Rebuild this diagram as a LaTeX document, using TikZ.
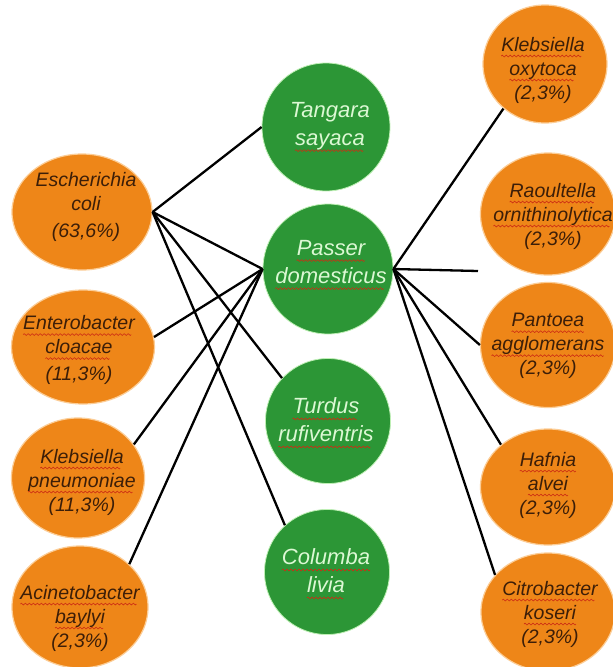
\documentclass[tikz,border=0pt]{standalone}
\usepackage{fontspec}
\setmainfont{Liberation Sans}
\usetikzlibrary{shapes.geometric}
\definecolor{orgfill}{RGB}{238,134,24}
\definecolor{orgedge}{RGB}{252,205,150}
\definecolor{grnfill}{RGB}{44,150,54}
\definecolor{grnedge}{RGB}{190,240,180}
\definecolor{orgtext}{RGB}{60,30,8}
\definecolor{grntext}{RGB}{220,248,212}
\definecolor{wavered}{RGB}{205,45,20}
\newsavebox\wavebox
\newcommand\wavepiece{\tikz[baseline=0pt]{\path[use as bounding box] (0pt,-1pt) rectangle (4pt,1pt);\draw[wavered,line width=0.6pt] (0pt,0pt) sin (1pt,0.9pt) cos (2pt,0pt) sin (3pt,-0.9pt) cos (4pt,0pt);}}
\newcommand\rwave[1]{\sbox\wavebox{#1}\rlap{\usebox\wavebox}\raisebox{-5pt}{\hbox to \wd\wavebox{\leaders\hbox{\wavepiece}\hfill}}}
\begin{document}
\begin{tikzpicture}[x=1pt,y=-1pt,
  bact/.style={ellipse, fill=orgfill, draw=orgedge, line width=1.2pt, inner sep=0pt},
  bird/.style={circle, fill=grnfill, draw=grnedge, line width=0.8pt, inner sep=0pt},
  btext/.style={align=center, font=\fontsize{19.5}{24}\selectfont\itshape, text=orgtext, inner sep=0pt},
  gtext/.style={align=center, font=\fontsize{22}{28}\selectfont\itshape, text=grntext, inner sep=0pt},
  link/.style={line width=2.3pt, black}]
\useasboundingbox (0,0) rectangle (613,667);
\fill[white] (0,0) rectangle (613,667);
% bacteria (left)
\node[bact, minimum width=140pt, minimum height=116pt] (ecoli) at (82,212) {};
\node[bact, minimum width=143pt, minimum height=114pt] (entero) at (83,347) {};
\node[bact, minimum width=133pt, minimum height=120pt] (kpneu) at (78,478) {};
\node[bact, minimum width=136pt, minimum height=122pt] (acin) at (80,607) {};
% bacteria (right)
\node[bact, minimum width=124pt, minimum height=118pt] (kox) at (545,64) {};
\node[bact, minimum width=135pt, minimum height=122pt] (rao) at (548,214) {};
\node[bact, minimum width=135pt, minimum height=125pt] (pant) at (548,345) {};
\node[bact, minimum width=135pt, minimum height=116pt] (haf) at (548,487) {};
\node[bact, minimum width=134pt, minimum height=118pt] (cit) at (548,612) {};
% birds
\node[bird, minimum size=128pt] (tang) at (326,127) {};
\node[bird, minimum size=130pt] (pass) at (328,269) {};
\node[bird, minimum size=125pt] (turd) at (328,421) {};
\node[bird, minimum size=125pt] (col) at (327,572) {};
% connectors
\draw[link] (ecoli.east) -- (tang.west);
\draw[link] (ecoli.east) -- (pass.west);
\draw[link] (ecoli.east) -- (turd.137);
\draw[link] (ecoli.east) -- (col.132);
\draw[link] (pass.west) -- (entero.8);
\draw[link] (pass.west) -- (kpneu.31);
\draw[link] (pass.west) -- (acin.41);
\coordinate (raoend) at (478,271);
\draw[link] (pass.east) -- (kox.227);
\draw[link] (pass.east) -- (raoend);
\draw[link] (pass.east) -- (pant.west);
\draw[link] (pass.east) -- (haf.138);
\draw[link] (pass.east) -- (cit.145);
% texts
\node[btext] (ecoli-t) at (86,207) {Escherichia\\coli\\[3pt](63,6\%)};
\node[btext] (entero-t) at (79,350) {\rwave{Enterobacter}\\\rwave{cloacae}\\[3pt](11,3\%)};
\node[btext] (kpneu-t) at (82,482) {\rwave{Klebsiella}\\\rwave{pneumoniae}\\(11,3\%)};
\node[btext] (acin-t) at (80,618) {\rwave{Acinetobacter}\\\rwave{baylyi}\\(2,3\%)};
\node[btext] (kox-t) at (543,70) {\rwave{Klebsiella}\\\rwave{oxytoca}\\(2,3\%)};
\node[btext] (rao-t) at (553,216) {\rwave{Raoultella}\\\rwave{ornithinolytica}\\(2,3\%)};
\node[btext] (pant-t) at (548,346) {\rwave{Pantoea}\\\rwave{agglomerans}\\(2,3\%)};
\node[btext] (haf-t) at (548,485) {\rwave{Hafnia}\\\rwave{alvei}\\(2,3\%)};
\node[btext] (cit-t) at (550,614) {\rwave{Citrobacter}\\\rwave{koseri}\\(2,3\%)};
\node[gtext] (tang-t) at (330,127) {Tangara\\\rwave{sayaca}};
\node[gtext] (pass-t) at (331,265) {\rwave{Passer}\\\rwave{domesticus}};
\node[gtext] (turd-t) at (326,423) {\rwave{Turdus}\\\rwave{rufiventris}};
\node[gtext] (col-t) at (326,574) {\rwave{Columba}\\\rwave{livia}};
\end{tikzpicture}
\end{document}
